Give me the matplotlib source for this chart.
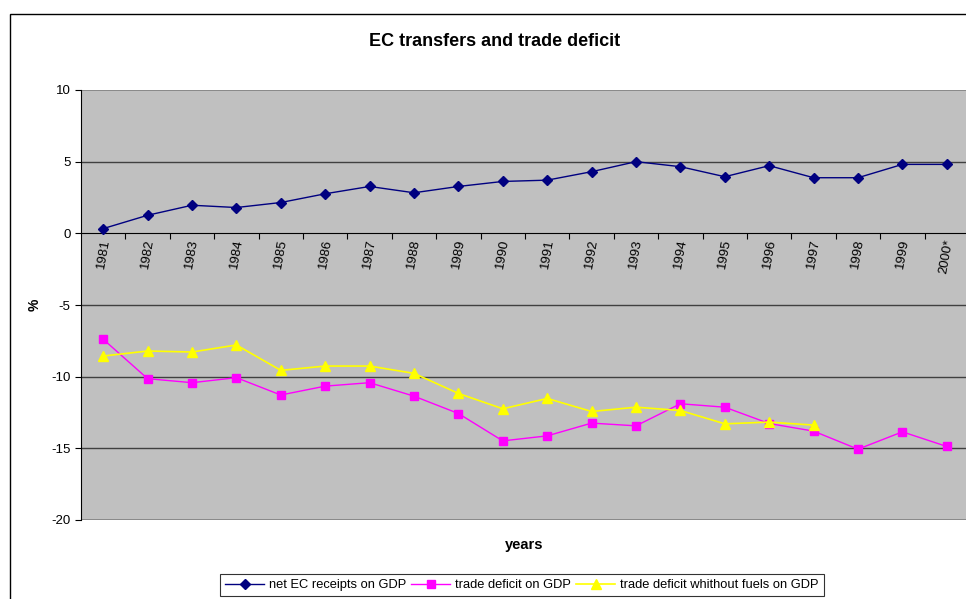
import matplotlib
matplotlib.use('Agg')
import matplotlib.pyplot as plt
from matplotlib.patches import Rectangle

plt.rcParams['font.family'] = ['Liberation Sans', 'DejaVu Sans']
plt.rcParams['axes.unicode_minus'] = False

years = ['1981', '1982', '1983', '1984', '1985', '1986', '1987', '1988', '1989', '1990',
         '1991', '1992', '1993', '1994', '1995', '1996', '1997', '1998', '1999', '2000*']
ec_receipts = [0.33, 1.26, 1.96, 1.8, 2.15, 2.76, 3.27, 2.83, 3.27, 3.62,
               3.71, 4.3, 5.0, 4.65, 3.95, 4.72, 3.88, 3.88, 4.81, 4.81]
trade_deficit = [-7.39, -10.14, -10.42, -10.07, -11.28, -10.66, -10.42, -11.36, -12.57, -14.48,
                 -14.13, -13.24, -13.43, -11.89, -12.13, -13.27, -13.8, -15.06, -13.85, -14.87]
deficit_no_fuels = [-8.56, -8.21, -8.28, -7.79, -9.56, -9.26, -9.26, -9.77, -11.17, -12.24,
                    -11.52, -12.43, -12.13, -12.36, -13.29, -13.17, -13.38]

fig = plt.figure(figsize=(9.66, 5.99), dpi=100)
ax = fig.add_axes([81 / 966, 1 - 520 / 599, (969 - 81) / 966, (520 - 90) / 599])
ax.set_facecolor('#c0c0c0')

# bordo esterno del grafico
fig.patches.append(Rectangle((10 / 966, -0.05), 1.0, 1 - 14 / 599 + 0.05, transform=fig.transFigure,
                             fill=False, edgecolor='black', linewidth=1))

x = list(range(len(years)))
for yv in [5, -5, -10, -15]:
    ax.axhline(yv, color='#404040', linewidth=1, zorder=1)
ax.axhline(10, color='#808080', linewidth=1.2, zorder=1)
ax.axhline(-20, color='#808080', linewidth=1.2, zorder=1)

ax.plot(x, ec_receipts, color='#000080', marker='D', markersize=5, linewidth=1,
        label='net EC receipts on GDP', zorder=3)
ax.plot(x, trade_deficit, color='#ff00ff', marker='s', markersize=6, linewidth=1,
        label='trade deficit on GDP', zorder=3)
ax.plot(x[:len(deficit_no_fuels)], deficit_no_fuels, color='#ffff00', marker='^', markersize=7,
        linewidth=1.2, label='trade deficit whithout fuels on GDP', zorder=3)

ax.set_xlim(-0.5, len(years) - 0.5)
ax.set_ylim(-20, 10)
ax.set_yticks([10, 5, 0, -5, -10, -15, -20])
ax.tick_params(axis='y', labelsize=9.5, length=4, direction='out')

ax.spines['bottom'].set_position(('data', 0))
ax.spines['top'].set_visible(False)
ax.spines['right'].set_visible(False)
ax.set_xticks([i + 0.5 for i in range(len(years))])
ax.set_xticklabels([])
ax.tick_params(axis='x', length=4, direction='out')

for i, lab in enumerate(years):
    ax.text(i, -0.35, lab, rotation=80, ha='center', va='top', fontsize=9.5)

fig.text(495 / 966, 1 - 41 / 599, 'EC transfers and trade deficit', ha='center', va='center',
         fontsize=13, fontweight='bold')
fig.text(35 / 966, 1 - 305 / 599, '%', rotation=90, ha='center', va='center',
         fontsize=10, fontweight='bold')
fig.text(524 / 966, 1 - 545 / 599, 'years', ha='center', va='center',
         fontsize=10.5, fontweight='bold')

leg = fig.legend(loc='center', bbox_to_anchor=(522 / 966, 1 - 585 / 599), ncol=3,
                 fontsize=9.3, frameon=True, fancybox=False, handlelength=3,
                 columnspacing=0.4, handletextpad=0.4, borderpad=0.4)
leg.get_frame().set_edgecolor('black')
leg.get_frame().set_linewidth(0.8)

fig.savefig('out.png', dpi=100)
